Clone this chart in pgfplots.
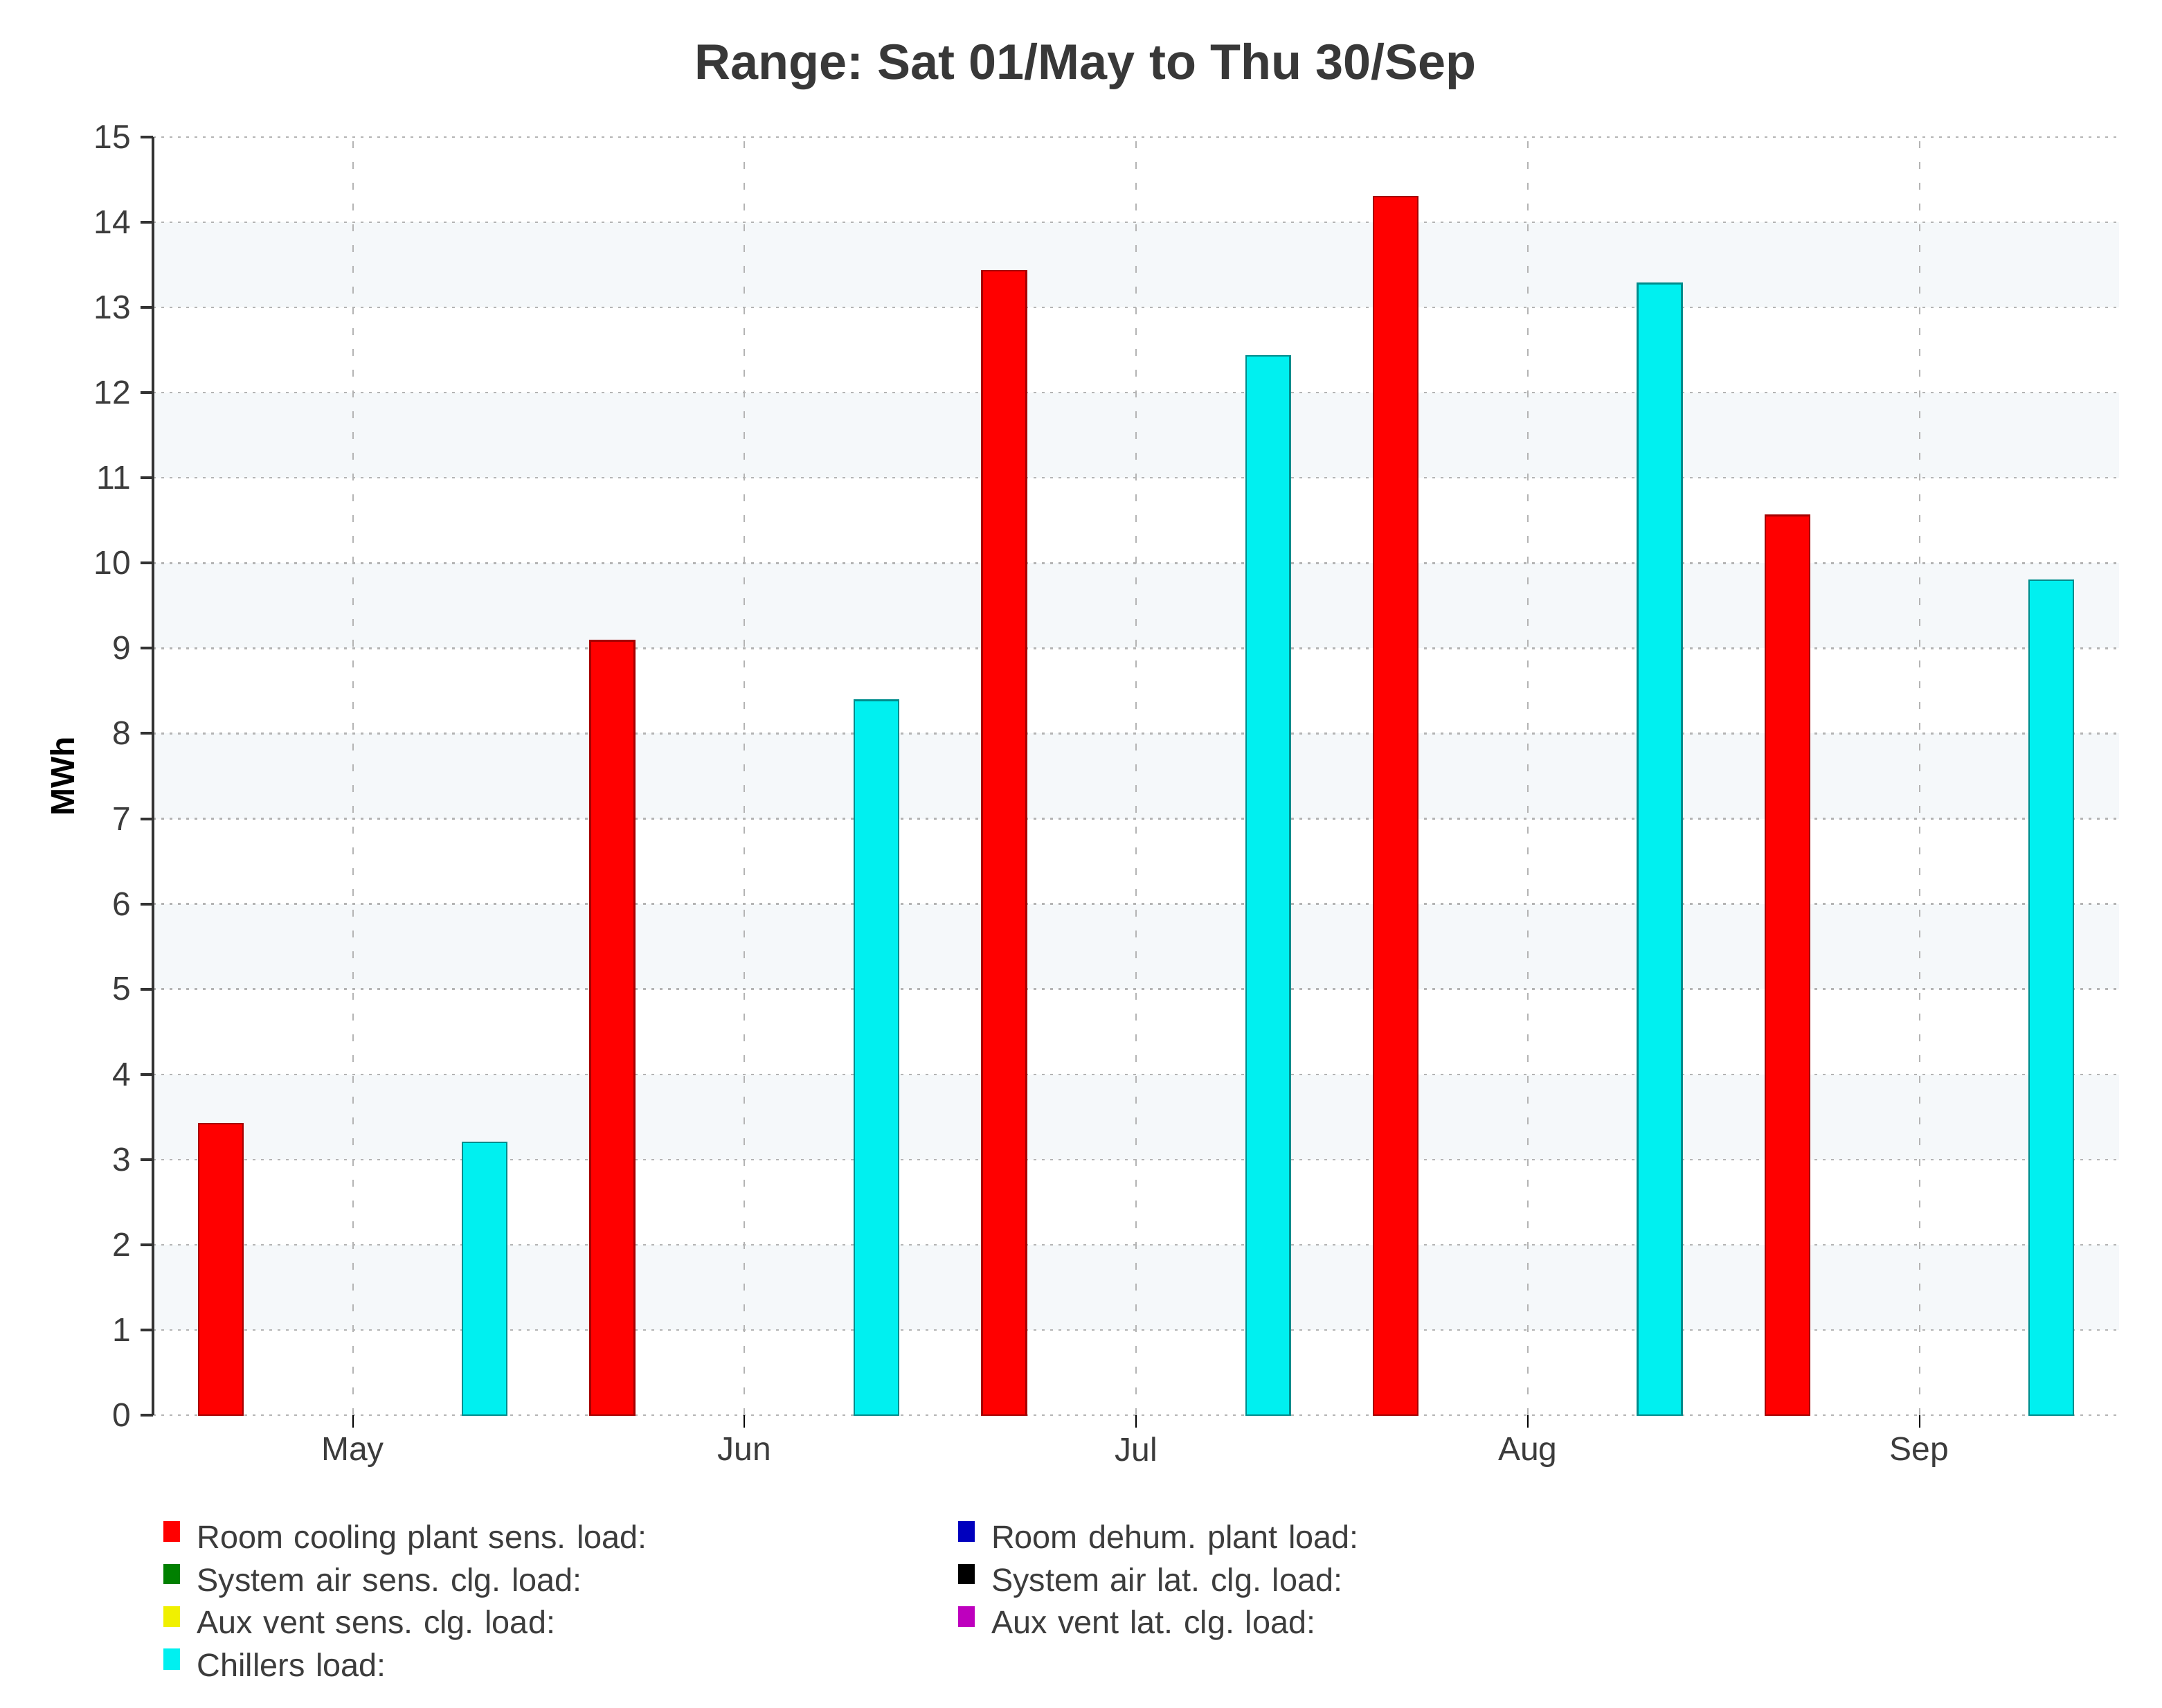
\documentclass[border=0pt]{standalone}
\usepackage{fontspec}
\setmainfont{Liberation Sans}
\usepackage{pgfplots}
\pgfplotsset{compat=1.18}
\frenchspacing
\definecolor{band}{RGB}{245,248,250}
\definecolor{barred}{RGB}{255,0,0}
\definecolor{redline}{RGB}{165,0,0}
\definecolor{barcyan}{RGB}{0,240,240}
\definecolor{cyanline}{RGB}{0,140,140}
\definecolor{txt}{RGB}{60,60,60}
\definecolor{gridc}{RGB}{180,180,180}
\definecolor{lblue}{RGB}{0,0,190}
\definecolor{lgreen}{RGB}{0,128,0}
\definecolor{lyellow}{RGB}{240,240,0}
\definecolor{lmag}{RGB}{190,0,190}
\pgfplotsset{sq/.style={legend image code/.code={\fill[#1] (0pt,-0.4pt) rectangle (5.5pt,6.6pt);}}}
\begin{document}
\begin{tikzpicture}
\begin{axis}[
  set layers,
  scale only axis,
  width=710pt, height=461.5pt,
  xmin=-0.51, xmax=4.51, ymin=0, ymax=15,
  xtick={0,1,2,3,4}, xticklabels={May,Jun,Jul,Aug,Sep},
  ytick={0,1,...,15},
  /pgf/number format/assume math mode=true,
  tick label style={font=\fontsize{12}{14}\selectfont, text=txt},
  axis x line*=bottom, axis y line*=left,
  x axis line style={draw=none},
  y axis line style={draw=black!80, line width=1pt, -},
  tick align=outside,
  major tick length=4.5pt,
  xtick style={draw=black, line width=0.5pt},
  ytick style={draw=black!80, line width=1pt},
  xmajorgrids, ymajorgrids,
  x grid style={draw=gridc, dash pattern=on 2.5pt off 5pt, line width=0.5pt},
  y grid style={draw=gridc, dash pattern=on 1pt off 2pt, line width=0.6pt},
  ybar, bar width=0.113,
  title={Range: Sat 01/May to Thu 30/Sep},
  title style={font=\fontsize{18}{21}\selectfont\bfseries, text=black!78, at={(axis description cs:0.4743,1)}, anchor=center, yshift=19.5pt},
  ylabel={MWh},
  every axis y label/.style={at={(axis description cs:-0.0461,0.5)}, rotate=90, anchor=center, font=\fontsize{12}{14}\selectfont\bfseries},
  legend columns=2,
  legend cell align=left,
  legend style={at={(axis description cs:0.0053,0)}, anchor=north west, yshift=-38.2pt, draw=none, fill=none, inner sep=0pt, outer sep=0pt, column sep=6pt, row sep=3pt, font=\fontsize{11.7}{14}\selectfont, text=txt, nodes={inner sep=0pt, text height=8.6pt, text depth=2.5pt, text width=269pt, align=left}},
]
\begin{pgfonlayer}{axis background}
\fill[band] (axis cs:-0.51,1) rectangle (axis cs:4.51,2);
\fill[band] (axis cs:-0.51,3) rectangle (axis cs:4.51,4);
\fill[band] (axis cs:-0.51,5) rectangle (axis cs:4.51,6);
\fill[band] (axis cs:-0.51,7) rectangle (axis cs:4.51,8);
\fill[band] (axis cs:-0.51,9) rectangle (axis cs:4.51,10);
\fill[band] (axis cs:-0.51,11) rectangle (axis cs:4.51,12);
\fill[band] (axis cs:-0.51,13) rectangle (axis cs:4.51,14);
\end{pgfonlayer}
\addplot[fill=barred, draw=redline, line width=0.6pt, bar shift=-0.337, sq=barred] coordinates {(0,3.42) (1,9.09) (2,13.43) (3,14.30) (4,10.56)};
\addlegendentry{Room cooling plant sens. load:}
\addlegendimage{sq=lblue}
\addlegendentry{Room dehum. plant load:}
\addlegendimage{sq=lgreen}
\addlegendentry{System air sens. clg. load:}
\addlegendimage{sq=black}
\addlegendentry{System air lat. clg. load:}
\addlegendimage{sq=lyellow}
\addlegendentry{Aux vent sens. clg. load:}
\addlegendimage{sq=lmag}
\addlegendentry{Aux vent lat. clg. load:}
\addplot[fill=barcyan, draw=cyanline, line width=0.6pt, bar shift=0.337, sq=barcyan] coordinates {(0,3.20) (1,8.39) (2,12.43) (3,13.28) (4,9.80)};
\addlegendentry{Chillers load:}
\end{axis}
\pgfresetboundingbox
\useasboundingbox (-55.25pt,-105.5pt) rectangle (725.5pt,511pt);
\end{tikzpicture}
\end{document}
